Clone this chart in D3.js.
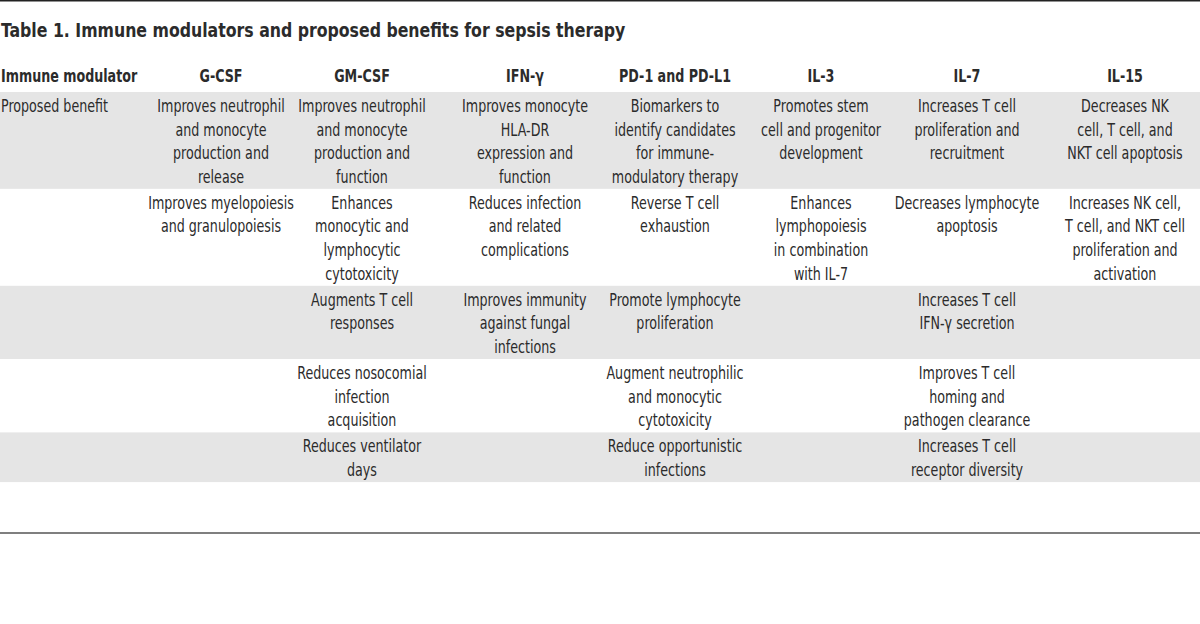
<!DOCTYPE html>
<html>
<head>
<meta charset="utf-8">
<script src="https://cdn.jsdelivr.net/npm/d3@7"></script>
<style>
  body { margin: 0; background: #fff; }
  text { font-family: "Liberation Sans Narrow", "DejaVu Sans Condensed", "Roboto Condensed", sans-serif; fill: #2b2b2b; }
</style>
</head>
<body>
<svg id="chart"></svg>
<script>
// Table content
const title = "Table 1. Immune modulators and proposed benefits for sepsis therapy";
const firstHeader = "Immune modulator";
const rowLabels = ["Proposed benefit", "", "", "", ""];
const modulators = ["G-CSF", "GM-CSF", "IFN-\u03b3", "PD-1 and PD-L1", "IL-3", "IL-7", "IL-15"];

const gcsf = ["Improves neutrophil\nand monocyte\nproduction and\nrelease", "Improves myelopoiesis\nand granulopoiesis", "", "", ""];
const gmcsf = ["Improves neutrophil\nand monocyte\nproduction and\nfunction", "Enhances\nmonocytic and\nlymphocytic\ncytotoxicity", "Augments T cell\nresponses", "Reduces nosocomial\ninfection\nacquisition", "Reduces ventilator\ndays"];
const ifng = ["Improves monocyte\nHLA-DR\nexpression and\nfunction", "Reduces infection\nand related\ncomplications", "Improves immunity\nagainst fungal\ninfections", "", ""];
const pd1 = ["Biomarkers to\nidentify candidates\nfor immune-\nmodulatory therapy", "Reverse T cell\nexhaustion", "Promote lymphocyte\nproliferation", "Augment neutrophilic\nand monocytic\ncytotoxicity", "Reduce opportunistic\ninfections"];
const il3 = ["Promotes stem\ncell and progenitor\ndevelopment", "Enhances\nlymphopoiesis\nin combination\nwith IL-7", "", "", ""];
const il7 = ["Increases T cell\nproliferation and\nrecruitment", "Decreases lymphocyte\napoptosis", "Increases T cell\nIFN-\u03b3 secretion", "Improves T cell\nhoming and\npathogen clearance", "Increases T cell\nreceptor diversity"];
const il15 = ["Decreases NK\ncell, T cell, and\nNKT cell apoptosis", "Increases NK cell,\nT cell, and NKT cell\nproliferation and\nactivation", "", "", ""];

const columns = [gcsf, gmcsf, ifng, pd1, il3, il7, il15];

// Layout
const width = 1200, height = 624;
const lineH = 23.6;
const tableTop = 92;
const fontSize = 17;
const squeeze = 0.83;   // the original face is a condensed one, narrower than DejaVu Condensed

const svg = d3.select("#chart").attr("width", width).attr("height", height);

const x = d3.scaleOrdinal()
  .domain(modulators)
  .range([221, 362, 525, 675, 821, 967, 1125]);

const narrow = (cx, cy, s) => `translate(${cx},${cy}) scale(${s || squeeze},1)`;

// row heights from the number of lines in the tallest cell
const rowLines = rowLabels.map((_, r) =>
  d3.max(columns, c => c[r] ? c[r].split("\n").length : 1));
let acc = tableTop;
const rowTops = rowLines.map(n => { const t = acc; acc += n * lineH + 2.5; return t; });
const rowBottoms = rowLines.map((n, i) => rowTops[i] + n * lineH + 2.5);

// top and bottom rules
svg.append("line").attr("x1", 0).attr("x2", width).attr("y1", 0.75).attr("y2", 0.75)
  .attr("stroke", "#222").attr("stroke-width", 1.5);
svg.append("line").attr("x1", 0).attr("x2", width).attr("y1", 533).attr("y2", 533)
  .attr("stroke", "#555").attr("stroke-width", 1.5);

// title
svg.append("text").attr("transform", narrow(1, 37, 0.875))
  .attr("font-size", 20).attr("font-weight", "bold").text(title);

// header row
svg.append("text").attr("transform", narrow(1, 82))
  .attr("font-size", fontSize).attr("font-weight", "bold").text(firstHeader);
svg.selectAll("text.head").data(modulators).enter().append("text")
  .attr("class", "head")
  .attr("transform", d => narrow(x(d), 82))
  .attr("text-anchor", "middle")
  .attr("font-size", fontSize).attr("font-weight", "bold")
  .text(d => d);

// striped rows
svg.selectAll("rect.band").data(rowLabels).enter().append("rect")
  .attr("class", "band")
  .attr("x", 0).attr("width", width)
  .attr("y", (d, i) => rowTops[i])
  .attr("height", (d, i) => rowBottoms[i] - rowTops[i])
  .attr("fill", (d, i) => i % 2 === 0 ? "#e5e5e5" : "#fff");

// row labels
svg.selectAll("text.rowlabel").data(rowLabels).enter().append("text")
  .attr("class", "rowlabel")
  .attr("transform", (d, i) => narrow(1, rowTops[i] + 20))
  .attr("font-size", fontSize)
  .text(d => d);

// cells
const cells = [];
columns.forEach((col, c) => col.forEach((txt, r) => {
  if (txt) cells.push({ mod: modulators[c], row: r, lines: txt.split("\n") });
}));

const cellG = svg.selectAll("text.cell").data(cells).enter().append("text")
  .attr("class", "cell")
  .attr("transform", d => narrow(x(d.mod), rowTops[d.row] + 20))
  .attr("text-anchor", "middle")
  .attr("font-size", fontSize);

cellG.selectAll("tspan").data(d => d.lines.map((l, i) => ({ l, i }))).enter().append("tspan")
  .attr("x", 0)
  .attr("y", t => t.i * lineH)
  .text(t => t.l);
</script>
</body>
</html>
